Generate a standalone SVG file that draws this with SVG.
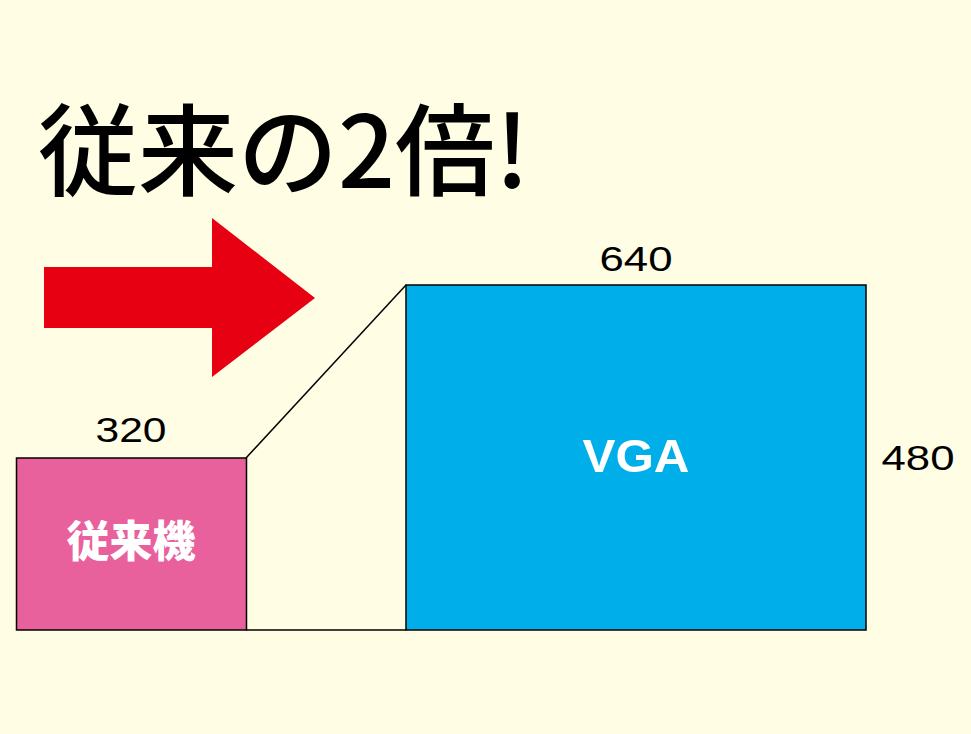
<svg xmlns="http://www.w3.org/2000/svg" width="971" height="734" viewBox="0 0 971 734">
<style>
.num{font-family:"Liberation Sans","DejaVu Sans",sans-serif;font-size:35px;fill:#000;text-anchor:middle}
.jp{font-family:"Noto Sans CJK JP",sans-serif}
.edge{stroke:#000;stroke-width:1.5;fill:none}
</style>
<rect width="971" height="734" fill="#FFFDE3"/>
<text class="jp" x="38" y="188" font-size="100" font-weight="500" fill="#000">従来の2倍!</text>
<g id="arrow"><polygon points="44,267 212,267 212,218 315,298 212,377 212,328 44,328" fill="#E60012"/></g>
<g id="connectors">
<line class="edge" x1="246" y1="458" x2="406" y2="285"/>
<line class="edge" x1="246" y1="630" x2="406" y2="630"/>
</g>
<g id="old">
<rect x="16.5" y="458" width="230" height="172" fill="#E8609C" stroke="#000" stroke-width="1.5"/>
<text class="jp" x="131" y="557" font-size="43" font-weight="900" fill="#fff" text-anchor="middle">従来機</text>
<text class="num" x="131" y="442" textLength="71" lengthAdjust="spacingAndGlyphs">320</text>
</g>
<g id="vga">
<rect x="406" y="285" width="460" height="345" fill="#00AEEA" stroke="#000" stroke-width="1.5"/>
<text x="636" y="472" font-family="Liberation Sans,sans-serif" font-weight="bold" font-size="47" fill="#fff" text-anchor="middle" textLength="107" lengthAdjust="spacingAndGlyphs">VGA</text>
<text class="num" x="636" y="271" textLength="73" lengthAdjust="spacingAndGlyphs">640</text>
<text class="num" x="918" y="470" textLength="73" lengthAdjust="spacingAndGlyphs">480</text>
</g>
</svg>
